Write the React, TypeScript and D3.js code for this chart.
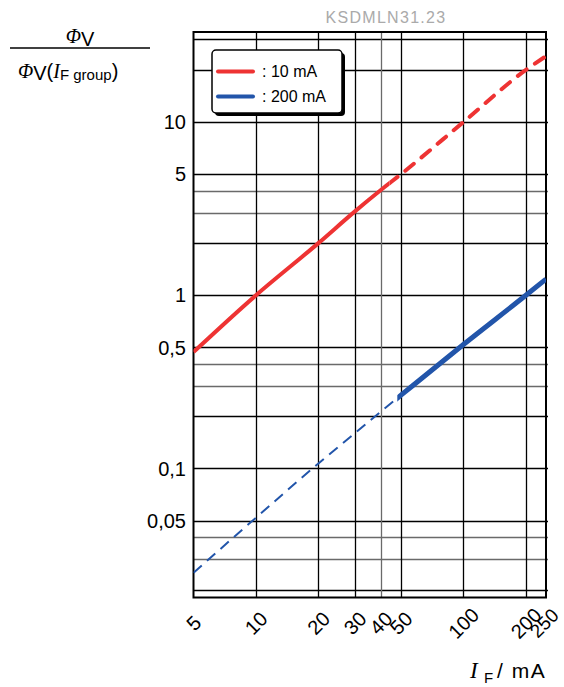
import React from "react";
import * as d3 from "d3";

const currents = [5, 10, 20, 30, 40, 50, 100, 200, 250];
const ratio10mA = [0.47, 1.0, 2.0, 3.05, 4.05, 5.0, 10.0, 20.0, 24.0];
const ratio200mA = [0.025, 0.052, 0.107, 0.16, 0.213, 0.265, 0.52, 1.0, 1.24];
const red10SolidUntil = 44;
const blue200SolidFrom = 48;

const xTicks = [5, 10, 20, 30, 40, 50, 100, 200, 250];
const xGrid = [10, 20, 30, 40, 50, 100, 200];
const xMinor = [40];
const yTickValues = [10, 5, 1, 0.5, 0.1, 0.05];
const yTickLabels = ["10", "5", "1", "0,5", "0,1", "0,05"];
const yGrid = [0.02, 0.03, 0.04, 0.05, 0.1, 0.2, 0.3, 0.4, 0.5, 1, 2, 3, 4, 5, 10, 20, 30];
const yMinor = [0.03, 0.04, 0.3, 0.4, 3, 4];

const W = 564, H = 687;
const L = 193.5, R = 546, T = 32, B = 597.5;

export default function App() {
  const x = d3.scaleLog().domain([5, 250]).range([L, R]);
  const y = d3.scaleLog().domain([0.018, 33.1]).range([B, T]);
  const line = d3
    .line<number>()
    .x((_, i) => x(currents[i]))
    .curve(d3.curveMonotoneX);
  const redPath = line.y((d) => y(d))(ratio10mA) || "";
  const bluePath = line.y((d) => y(d))(ratio200mA) || "";
  const font = "'Liberation Sans', Arial, Helvetica, sans-serif";
  const serif = "'Liberation Serif', 'Times New Roman', serif";
  const xr = x(red10SolidUntil);
  const xb = x(blue200SolidFrom);
  const red = "#ee3333";
  const blue = "#2255aa";
  const snap = (v: number) => Math.round(v) + 0.5;

  return (
    <svg
      width={W}
      height={H}
      style={{ position: "absolute", left: 0, top: 0, background: "#fff" }}
      fontFamily={font}
    >
      <defs>
        <clipPath id="plot">
          <rect x={L} y={T} width={R - L} height={B - T} />
        </clipPath>
        <clipPath id="redSolid">
          <rect x={L - 5} y={T} width={xr - L + 5} height={B - T} />
        </clipPath>
        <clipPath id="redDash">
          <rect x={xr} y={T} width={R - xr + 5} height={B - T} />
        </clipPath>
        <clipPath id="blueDash">
          <rect x={L} y={T} width={xb - L} height={B - T} />
        </clipPath>
        <clipPath id="blueSolid">
          <rect x={xb} y={T} width={R - xb + 5} height={B - T} />
        </clipPath>
      </defs>

      {/* title */}
      <text x={386} y={23} textAnchor="middle" fontSize={16} fill="#aaaaaa" letterSpacing={1.3}>
        KSDMLN31.23
      </text>

      {/* grid */}
      {yGrid.map((v) => (
        <line
          key={"yg" + v}
          x1={L}
          x2={R + 2}
          y1={snap(y(v))}
          y2={snap(y(v))}
          stroke={yMinor.includes(v) ? "#6a6a6a" : "#000"}
          strokeWidth={1.3}
        />
      ))}
      {xGrid.map((v) => (
        <line
          key={"xg" + v}
          x1={snap(x(v))}
          x2={snap(x(v))}
          y1={T}
          y2={B}
          stroke={xMinor.includes(v) ? "#6a6a6a" : "#000"}
          strokeWidth={1.3}
        />
      ))}
      <rect x={L} y={T} width={R - L} height={B - T} fill="none" stroke="#000" strokeWidth={2} />

      {/* curves */}
      <g clipPath="url(#plot)">
        <path d={redPath} fill="none" stroke={red} strokeWidth={4} clipPath="url(#redSolid)" />
        <path
          d={redPath}
          fill="none"
          stroke={red}
          strokeWidth={4}
          strokeDasharray="11 10"
          strokeLinecap="round"
          strokeDashoffset={-6}
          clipPath="url(#redDash)"
        />
        <path
          d={bluePath}
          fill="none"
          stroke={blue}
          strokeWidth={2}
          strokeDasharray="11 7"
          clipPath="url(#blueDash)"
        />
        <path d={bluePath} fill="none" stroke={blue} strokeWidth={5} clipPath="url(#blueSolid)" />
      </g>

      {/* legend */}
      <rect x={215} y={53} width={130} height={63} rx={4} fill="#000" />
      <rect x={212} y={50} width={130} height={63} rx={4} fill="#fff" stroke="#000" strokeWidth={1.5} />
      <line x1={218} x2={253} y1={71.5} y2={71.5} stroke={red} strokeWidth={4} strokeLinecap="round" />
      <line x1={218} x2={253} y1={96.5} y2={96.5} stroke={blue} strokeWidth={4} strokeLinecap="round" />
      <text x={262} y={77} fontSize={16}>
        : 10 mA
      </text>
      <text x={262} y={102} fontSize={16}>
        : 200 mA
      </text>

      {/* y tick labels */}
      {yTickValues.map((v, i) => (
        <text key={"yt" + v} x={186} y={y(v)} dy="0.36em" textAnchor="end" fontSize={20}>
          {yTickLabels[i]}
        </text>
      ))}

      {/* x tick labels */}
      {xTicks.map((v) => (
        <text
          key={"xt" + v}
          transform={`translate(${x(v) - (v === 250 ? 2 : 0)},${623}) rotate(-45)`}
          textAnchor="middle"
          dy="0.36em"
          fontSize={v === 250 ? 19 : 20}
        >
          {v}
        </text>
      ))}

      {/* x axis title */}
      <text x={470} y={678} fontSize={21}>
        <tspan fontFamily={serif} fontStyle="italic" fontSize={23}>I</tspan>
        <tspan fontSize={15} x={484} dy={5}>F</tspan>
        <tspan x={497} dy={-5} letterSpacing={1.5}>/ mA</tspan>
      </text>

      {/* y axis title */}
      <text x={80} y={43} fontSize={20} textAnchor="middle">
        <tspan fontFamily={serif} fontStyle="italic">Φ</tspan>
        <tspan dy={3}>V</tspan>
      </text>
      <line x1={10} x2={150} y1={48} y2={48} stroke="#000" strokeWidth={1.5} />
      <text x={18} y={78} fontSize={20}>
        <tspan fontFamily={serif} fontStyle="italic">Φ</tspan>
        <tspan dy={2}>V</tspan>
        <tspan dy={-2}>(</tspan>
        <tspan fontFamily={serif} fontStyle="italic">I</tspan>
        <tspan fontSize={15} dy={2}>F group</tspan>
        <tspan dy={-2}>)</tspan>
      </text>
    </svg>
  );
}
